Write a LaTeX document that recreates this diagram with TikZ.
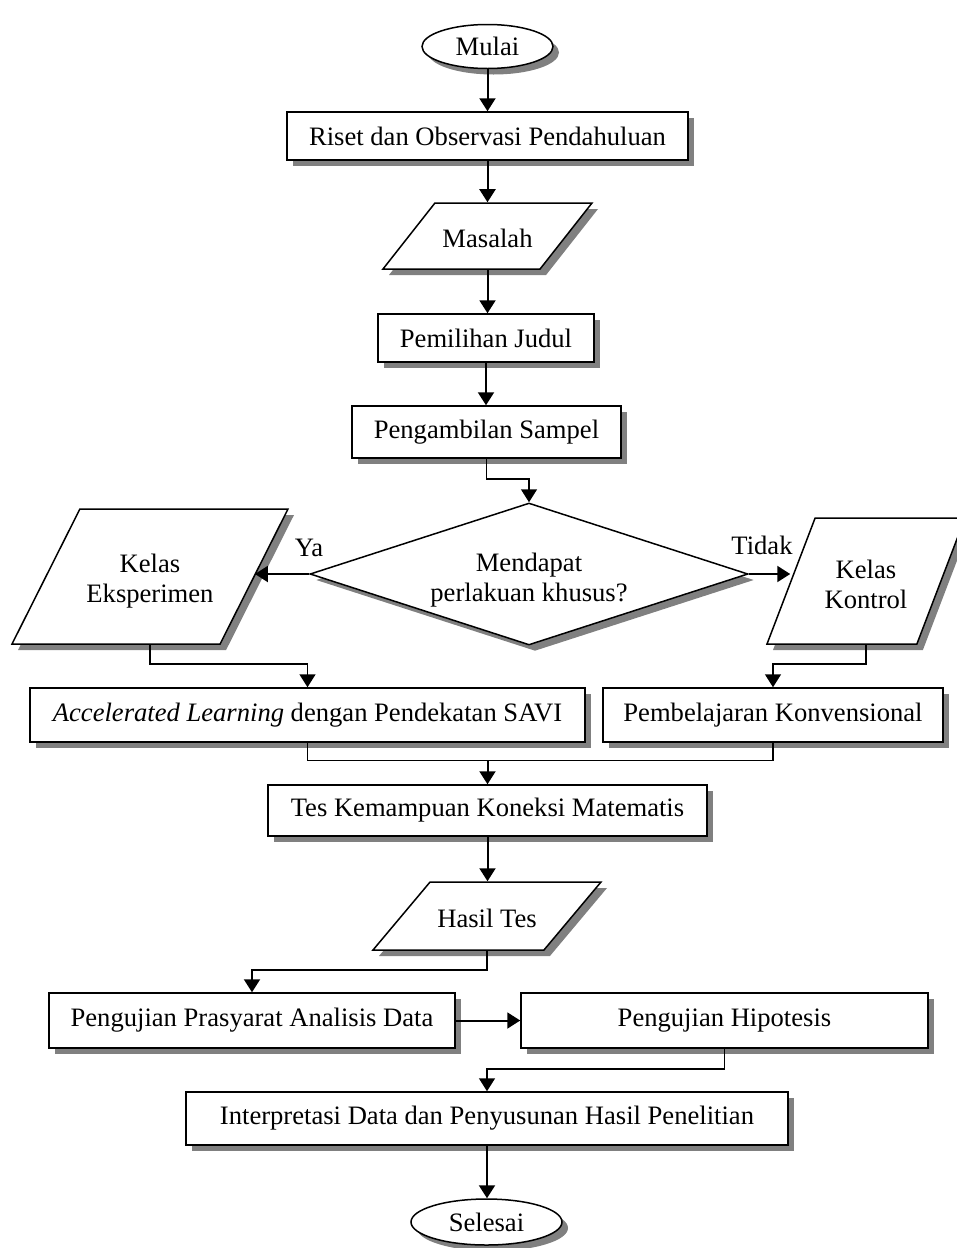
\documentclass[tikz,border=0pt]{standalone}
\usepackage{fontspec}
\setmainfont{Liberation Serif}
\usetikzlibrary{shapes.geometric,arrows.meta,shadows,calc}
\definecolor{shd}{HTML}{808080}
\newcommand{\twoline}[2]{\begin{tabular}{@{}c@{}}#1\\#2\end{tabular}}
\begin{document}
\begin{tikzpicture}[x=1pt,y=-1pt,
  font=\fontsize{26.6}{30}\selectfont,
  shdw/.style={drop shadow={shadow xshift=6pt,shadow yshift=-6pt,fill=shd,opacity=1}},
  box/.style={draw,line width=1.5pt,fill=white,shdw,inner sep=0pt,align=center},
  oval/.style={ellipse,draw,line width=1.5pt,fill=white,shdw,inner sep=0pt},
  para/.style={trapezium,trapezium stretches body,draw,line width=1.5pt,fill=white,shdw,inner sep=0pt},
  dia/.style={diamond,aspect=3,draw,line width=1.5pt,fill=white,shdw,inner sep=0pt},
  arr/.style={line width=2pt,-{Triangle[width=16pt,length=13pt]}},
  arrthin/.style={line width=1.5pt,-{Triangle[width=16pt,length=13pt]}},
  thinln/.style={line width=1.3pt}]
\useasboundingbox (0,0) rectangle (957,1248);
\node[oval,minimum width=131pt,minimum height=44pt] (mulai) at (487.5,46.5) {Mulai};
\node[box,minimum width=401pt,minimum height=48pt] (riset) at (487.5,136) {Riset dan Observasi Pendahuluan};
\node[para,text height=44.5pt,text depth=21.5pt,trapezium left angle=51.8,trapezium right angle=128.2,minimum width=209pt] (masalah) at (487.5,236) {Masalah};
\node[box,minimum width=216pt,minimum height=48pt] (judul) at (486,338) {Pemilihan Judul};
\node[box,minimum width=269pt,minimum height=52pt] (sampel) at (486.5,432) {Pengambilan Sampel};
\node[dia,minimum width=438pt,minimum height=142pt,text height=43pt,text depth=17pt] (dia) at (529,574) {\twoline{Mendapat}{perlakuan khusus?}};
\node[para,text height=78.5pt,text depth=56.5pt,trapezium left angle=63.3,trapezium right angle=116.7,minimum width=276pt] (eks) at (150,576.5) {\twoline{Kelas}{Eksperimen}};
\node[para,text height=76pt,text depth=50pt,trapezium left angle=69.1,trapezium right angle=110.9,minimum width=198pt] (kon) at (866,581) {\twoline{Kelas}{Kontrol}};
\node (ya) at (309,548) {Ya};
\node (tidak) at (762,545) {Tidak};
\node[box,minimum width=555pt,minimum height=54pt] (accel) at (307.5,715) {\textit{Accelerated Learning} dengan Pendekatan SAVI};
\node[box,minimum width=340pt,minimum height=54pt] (konv) at (773,715) {Pembelajaran Konvensional};
\node[box,minimum width=439pt,minimum height=51pt] (tes) at (487.5,810.5) {Tes Kemampuan Koneksi Matematis};
\node[para,text height=45.5pt,text depth=22.5pt,trapezium left angle=50,trapezium right angle=130,minimum width=228pt] (hasil) at (487,916) {Hasil Tes};
\node[box,minimum width=406pt,minimum height=55pt] (pras) at (252,1020.5) {Pengujian Prasyarat Analisis Data};
\node[box,minimum width=407pt,minimum height=55pt] (hip) at (724.5,1020.5) {Pengujian Hipotesis};
\node[box,minimum width=602pt,minimum height=53pt] (interp) at (487,1118.5) {Interpretasi Data dan Penyusunan Hasil Penelitian};
\node[oval,minimum width=151pt,minimum height=46pt] (selesai) at (486.5,1222) {Selesai};
\draw[arr] (mulai.south) -- (mulai.south |- riset.north);
\draw[arr] (riset.south) -- (riset.south |- masalah.north);
\draw[arr] (masalah.south) -- (masalah.south |- judul.north);
\draw[arr] (judul.south) -- (judul.south |- sampel.north);
\draw[arrthin] (sampel.south) -- ++(0,20) -| (dia.north);
\draw[arr] (dia.west) -- (dia.west -| eks.east);
\draw[arr] (dia.east) -- (dia.east -| kon.west);
\draw[arrthin] (eks.south) -- ++(0,19) -| (accel.north);
\draw[arrthin] (kon.south) -- ++(0,19) -| (konv.north);
\draw[thinln] (accel.south) -- ++(0,18) coordinate (m) -| (konv.south);
\draw[arr] (m -| tes.north) -- (tes.north);
\draw[arr] (tes.south) -- (tes.south |- hasil.north);
\draw[arr] (hasil.south) -- ++(0,19) -| (pras.north);
\draw[arr] (pras.east) -- (hip.west);
\draw[arrthin] (hip.south) -- ++(0,20) -| (interp.north);
\draw[arr] (interp.south) -- (interp.south |- selesai.north);
\end{tikzpicture}
\end{document}
